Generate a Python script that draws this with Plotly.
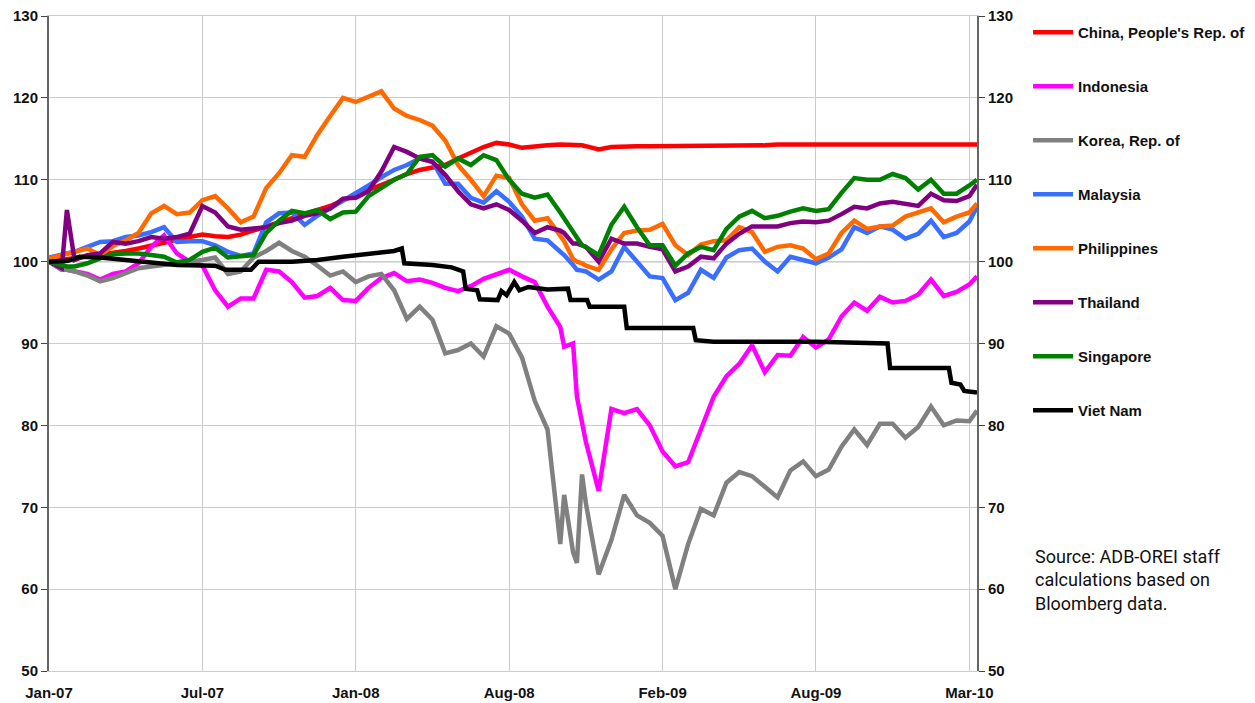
import plotly.graph_objects as go

# Observation positions (1 unit = 1/12 of the spacing between labelled ticks)
obs_extra = [1.4, 40.3, 41.3, 41.7, 72.6]
x_obs = sorted(list(range(73)) + obs_extra)

tick_pos = [0, 12, 24, 36, 48, 60, 72]
tick_labels = ["Jan-07", "Jul-07", "Jan-08", "Aug-08", "Feb-09", "Aug-09", "Mar-10"]

china = [100.0, 100.2, 100.3, 100.4, 100.6, 100.8, 101.0, 101.3, 101.6, 101.9, 102.3, 102.7, 103.0,
         103.3, 103.1, 103.0, 103.3, 103.8, 104.2, 104.7, 105.3, 105.8, 106.3, 106.8, 107.5,
         108.1, 108.8, 109.4, 110.0, 110.7, 111.2, 111.5, 111.8, 112.6, 113.3, 114.0, 114.5,
         114.3, 113.9, 114.1, 114.2, 114.3, 114.3, 114.2, 114.2, 114.2, 114.1, 113.7, 114.0,
         114.1, 114.1, 114.1, 114.1, 114.2, 114.2, 114.1, 114.2, 114.2, 114.2, 114.2, 114.2,
         114.3, 114.3, 114.2, 114.3, 114.3, 114.3, 114.3, 114.3, 114.3, 114.3, 114.3, 114.3,
         114.3, 114.3, 114.2, 114.3, 114.3]

indonesia = [100.0, 99.0, 99.0, 98.8, 98.5, 97.8, 98.5, 98.8, 99.8, 101.8, 103.2, 101.0, 100.0,
             99.5, 96.5, 94.5, 95.5, 95.5, 99.0, 98.8, 97.5, 95.6, 95.8, 96.8, 95.3,
             95.2, 96.8, 98.0, 98.6, 97.6, 97.8, 97.4, 96.8, 96.4, 97.0, 97.9, 98.5,
             99.0, 98.2, 97.5, 94.5, 92.0, 89.6, 90.0, 83.5, 80.0, 78.0, 72.0, 82.0,
             81.5, 82.0, 80.0, 76.8, 75.0, 75.5, 79.5, 83.5, 86.0, 87.5, 89.8, 86.5,
             88.6, 88.5, 90.8, 89.5, 90.5, 93.3, 95.0, 94.0, 95.7, 95.0, 95.2, 96.0,
             97.8, 95.8, 96.3, 97.2, 98.2]

korea = [100.0, 99.0, 99.0, 98.8, 98.3, 97.6, 98.0, 98.6, 99.2, 99.4, 99.6, 99.8, 99.9,
         100.2, 100.5, 98.5, 98.8, 100.5, 101.3, 102.3, 101.3, 100.6, 99.5, 98.3, 98.8,
         97.5, 98.2, 98.5, 96.5, 93.0, 94.5, 92.9, 88.8, 89.2, 90.0, 88.4, 92.1,
         91.2, 88.3, 83.0, 79.5, 65.5, 71.5, 64.5, 63.2, 74.0, 70.5, 61.8, 66.0,
         71.5, 69.0, 68.1, 66.5, 60.0, 65.5, 69.8, 69.0, 73.0, 74.3, 73.8, 72.5,
         71.2, 74.5, 75.6, 73.8, 74.6, 77.4, 79.5, 77.6, 80.2, 80.2, 78.5, 79.8,
         82.3, 80.0, 80.6, 80.5, 81.8]

malaysia = [100.5, 100.8, 101.0, 101.2, 101.8, 102.4, 102.5, 103.0, 103.2, 103.6, 104.2, 102.4, 102.5,
            102.5, 102.0, 101.2, 100.7, 101.0, 104.8, 105.9, 106.0, 104.5, 105.6, 106.5, 107.5,
            108.3, 109.3, 110.3, 111.2, 111.8, 112.6, 112.2, 109.5, 109.5, 107.8, 107.2, 108.6,
            107.3, 105.5, 102.8, 102.6, 101.2, 100.8, 99.6, 99.0, 98.9, 98.8, 97.8, 98.8,
            101.8, 100.0, 98.2, 98.0, 95.3, 96.2, 99.0, 98.0, 100.5, 101.4, 101.6, 100.0,
            98.8, 100.6, 100.2, 99.8, 100.5, 101.5, 104.2, 103.5, 104.3, 103.9, 102.8, 103.4,
            105.0, 103.0, 103.5, 104.9, 106.7]

philippines = [100.4, 100.8, 101.0, 101.3, 101.6, 100.8, 101.9, 102.6, 103.5, 105.9, 106.8, 105.8, 106.0,
               107.5, 108.0, 106.5, 104.8, 105.5, 109.0, 110.8, 113.0, 112.8, 115.5, 117.8, 120.0,
               119.5, 120.2, 120.8, 118.7, 117.8, 117.3, 116.6, 114.8, 111.8, 110.0, 108.0, 110.5,
               110.2, 107.0, 105.0, 105.3, 103.2, 102.5, 100.3, 100.0, 99.8, 99.5, 99.0, 101.5,
               103.5, 103.8, 103.9, 104.6, 102.0, 100.8, 102.1, 102.5, 102.6, 104.2, 103.6, 101.2,
               101.8, 102.0, 101.6, 100.3, 101.0, 103.5, 105.0, 104.0, 104.3, 104.4, 105.5, 106.0,
               106.5, 104.8, 105.5, 106.0, 107.1]

thailand = [100.0, 99.2, 106.3, 100.2, 100.8, 101.0, 102.4, 102.2, 102.5, 103.0, 102.8, 103.0, 103.4,
            106.8, 106.0, 104.3, 103.9, 104.0, 104.2, 104.7, 105.0, 105.6, 105.9, 106.5, 107.7,
            107.8, 108.6, 111.0, 114.0, 113.4, 112.6, 112.2, 110.6, 108.6, 107.0, 106.5, 107.0,
            106.3, 105.0, 103.5, 104.2, 103.8, 103.5, 102.2, 102.2, 102.0, 101.8, 100.0, 102.8,
            102.2, 102.2, 101.8, 101.5, 98.8, 99.4, 100.6, 100.4, 102.2, 103.4, 104.3, 104.3,
            104.3, 104.7, 104.9, 104.8, 105.0, 105.8, 106.7, 106.5, 107.1, 107.3, 107.1, 106.8,
            108.3, 107.5, 107.4, 108.0, 109.4]

singapore = [100.0, 99.5, 99.4, 99.4, 99.8, 100.4, 100.9, 101.0, 101.0, 100.8, 100.6, 99.9, 100.2,
             101.2, 101.7, 100.5, 100.6, 100.8, 103.5, 105.0, 106.2, 105.9, 106.3, 105.2, 106.0,
             106.1, 108.0, 109.0, 110.0, 110.7, 112.8, 113.0, 111.6, 112.6, 111.8, 113.0, 112.4,
             110.0, 108.3, 107.8, 108.2, 106.0, 105.3, 103.6, 102.8, 102.0, 101.8, 100.8, 104.5,
             106.7, 104.2, 102.0, 102.0, 99.5, 101.0, 101.8, 101.4, 104.0, 105.5, 106.2, 105.3,
             105.6, 106.1, 106.5, 106.2, 106.4, 108.4, 110.2, 110.0, 110.0, 110.7, 110.2, 108.8,
             110.0, 108.3, 108.3, 109.3, 110.0]

# Viet Nam moves in steps: its own breakpoints
vietnam_x = [0, 1.5, 2.4, 4, 6, 8, 10, 13, 13.8, 15.8, 16.4, 19, 21, 23, 25, 27, 27.6, 27.8, 30,
             31.5, 32.4, 32.6, 33.5, 33.7, 35.1, 35.4, 35.8, 36.4, 36.8, 37.5, 39, 40.6, 40.8,
             42.1, 42.3, 45.0, 45.2, 50.4, 50.6, 52, 60, 65.6, 65.8, 70.4, 70.6, 71.3, 71.6, 72.6]
vietnam = [100.0, 100.1, 100.6, 100.5, 100.2, 99.9, 99.6, 99.5, 99.0, 99.0, 100.0, 100.0, 100.2,
           100.6, 100.9, 101.3, 101.6, 99.8, 99.6, 99.3, 98.8, 96.7, 96.5, 95.4, 95.3, 96.4,
           95.9, 97.5, 96.5, 96.9, 96.6, 96.7, 95.3, 95.3, 94.5, 94.5, 91.9, 91.9, 90.4, 90.2,
           90.2, 90.0, 87.0, 87.0, 85.2, 85.0, 84.2, 84.0]

series = [
    ("China, People's Rep. of", china, "#FF0000"),
    ("Indonesia", indonesia, "#FF00FF"),
    ("Korea, Rep. of", korea, "#808080"),
    ("Malaysia", malaysia, "#3A6EFF"),
    ("Philippines", philippines, "#FF6A00"),
    ("Thailand", thailand, "#800080"),
    ("Singapore", singapore, "#008000"),
]

FONT = "Liberation Sans, Arial, sans-serif"
LW = 4.5

fig = go.Figure()
for name, vals, color in series:
    fig.add_trace(go.Scatter(x=x_obs, y=vals, name=name, mode="lines", legendgroup=name,
                             line=dict(color=color, width=LW)))
fig.add_trace(go.Scatter(x=vietnam_x, y=vietnam, name="Viet Nam", mode="lines", legendgroup="Viet Nam",
                         yaxis="y2", line=dict(color="#000000", width=LW)))

fig.add_shape(type="line", xref="paper", x0=0, x1=1, yref="y", y0=100, y1=100,
              line=dict(color="#000000", width=1), layer="below")

axis_font = dict(family=FONT, size=15, color="#111111", weight="bold")

fig.update_layout(
    width=1247, height=695,
    margin=dict(l=41, r=278, t=8, b=32, autoexpand=False),
    paper_bgcolor="white", plot_bgcolor="white",
    showlegend=True,
    legend=dict(x=1.055, xanchor="left", y=1.0, yanchor="top", tracegroupgap=31.5,
                maxheight=1,
                font=dict(family=FONT, size=15, color="#111111", weight="bold"),
                bgcolor="rgba(0,0,0,0)", itemwidth=40),
    xaxis=dict(range=[0, 72.6], tickvals=tick_pos, ticktext=tick_labels, showgrid=True,
               gridcolor="#cccccc", gridwidth=1, zeroline=False, showline=True,
               linecolor="#cccccc", linewidth=1, mirror=True, ticks="", automargin=False,
               tickfont=axis_font, ticklabelstandoff=8, ticklabeloverflow="allow"),
    yaxis=dict(range=[50, 130], dtick=10, showgrid=True, gridcolor="#cccccc", gridwidth=1,
               zeroline=False, showline=True, linecolor="#666666", linewidth=2, automargin=False,
               ticks="outside", ticklen=6, tickcolor="#444444", tickfont=axis_font,
               ticklabeloverflow="allow"),
    yaxis2=dict(range=[50, 130], dtick=10, overlaying="y", side="right", showgrid=False,
                zeroline=False, showline=True, linecolor="#666666", linewidth=2, automargin=False,
                ticks="outside", ticklen=6, tickcolor="#444444", tickfont=axis_font,
                ticklabeloverflow="allow"),
    annotations=[dict(xref="paper", yref="paper", x=1.060, y=0.139, xanchor="left", yanchor="middle",
                      align="left", showarrow=False,
                      text="Source: ADB-OREI staff<br>calculations based on<br>Bloomberg data.",
                      font=dict(family="Roboto, sans-serif", size=18, color="#111111"))],
)

fig.write_html("out.html")
